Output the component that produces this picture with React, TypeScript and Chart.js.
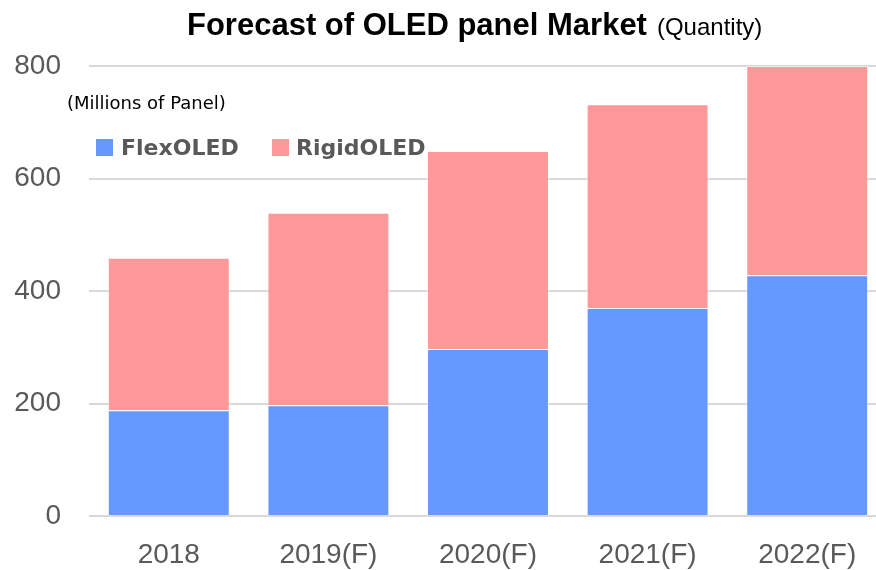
import React, { useEffect, useRef } from "react";
import { Chart, registerables } from "chart.js";

Chart.register(...registerables);

const categories = ["2018", "2019(F)", "2020(F)", "2021(F)", "2022(F)"];
const flexOLED = [188, 197, 297, 370, 428];
const rigidOLED = [271, 342, 352, 362, 372];
const seriesNames = ["FlexOLED", "RigidOLED"];
const seriesColors = ["#6699FF", "#FF9999"];
const yTicks = [0, 200, 400, 600, 800];
const titleMain = "Forecast of OLED panel Market";
const titleSub = "(Quantity)";
const unitLabel = "(Millions of Panel)";

const overlayPlugin = {
  id: "overlay",
  afterDraw(chart: any) {
    const ctx = chart.ctx;
    ctx.save();
    // Title
    ctx.textBaseline = "alphabetic";
    ctx.textAlign = "left";
    ctx.fillStyle = "#000000";
    ctx.font = "bold 31px 'Liberation Sans', Arial, sans-serif";
    const tx = 187;
    ctx.fillText(titleMain, tx, 35);
    const w = ctx.measureText(titleMain).width;
    ctx.font = "24px 'Liberation Sans', Arial, sans-serif";
    ctx.fillText(titleSub, tx + w + 10, 35);

    // Unit label
    ctx.font = "18px 'DejaVu Sans', sans-serif";
    ctx.fillStyle = "#000000";
    ctx.fillText(unitLabel, 67, 109);

    // Legend
    const ds = chart.data.datasets;
    const items = [
      { box: 96, text: 121 },
      { box: 272, text: 296 },
    ];
    ctx.font = "bold 22px 'DejaVu Sans', sans-serif";
    ds.forEach((d: any, i: number) => {
      const it = items[i];
      ctx.fillStyle = d.backgroundColor;
      ctx.fillRect(it.box, 139, 17, 17);
      ctx.fillStyle = "#595959";
      ctx.fillText(d.label, it.text, 155);
    });
    ctx.restore();
  },
};

export default function App() {
  const ref = useRef<HTMLCanvasElement | null>(null);
  useEffect(() => {
    if (!ref.current) return;
    const tickFont = { family: "'Liberation Sans', Arial, sans-serif", size: 28 };
    const chart = new Chart(ref.current, {
      type: "bar",
      data: {
        labels: categories,
        datasets: [
          {
            label: seriesNames[0],
            data: flexOLED,
            backgroundColor: seriesColors[0],
            borderColor: "rgba(255,255,255,0.5)",
            borderWidth: 1,
            categoryPercentage: 0.764,
            barPercentage: 1,
          },
          {
            label: seriesNames[1],
            data: rigidOLED,
            backgroundColor: seriesColors[1],
            borderColor: "rgba(255,255,255,0.5)",
            borderWidth: 1,
            categoryPercentage: 0.764,
            barPercentage: 1,
          },
        ],
      },
      options: {
        responsive: false,
        animation: false,
        layout: { padding: { left: 13, right: 13, top: 66, bottom: 0 } },
        plugins: {
          legend: { display: false },
          title: { display: false },
          tooltip: { enabled: false },
        },
        scales: {
          x: {
            stacked: true,
            grid: { display: false },
            border: { display: false },
            ticks: { font: tickFont, color: "#595959", padding: 14, maxRotation: 0 },
            afterFit: (axis: any) => {
              axis.height = 54;
            },
          },
          y: {
            stacked: true,
            min: yTicks[0],
            max: yTicks[yTicks.length - 1],
            afterBuildTicks: (axis: any) => {
              axis.ticks = yTicks.map((v) => ({ value: v }));
            },
            afterFit: (axis: any) => {
              axis.width = 76;
            },
            grid: { color: "#d9d9d9", lineWidth: 2, drawTicks: false },
            border: { display: false },
            ticks: { font: tickFont, color: "#595959", padding: 28 },
          },
        },
      },
      plugins: [overlayPlugin],
    });
    return () => chart.destroy();
  }, []);
  return (
    <div
      style={{
        position: "fixed",
        left: 0,
        top: 0,
        width: 876,
        height: 570,
        overflow: "hidden",
        background: "#ffffff",
      }}
    >
      <canvas ref={ref} width={900} height={570} style={{ width: 900, height: 570, display: "block" }} />
    </div>
  );
}
